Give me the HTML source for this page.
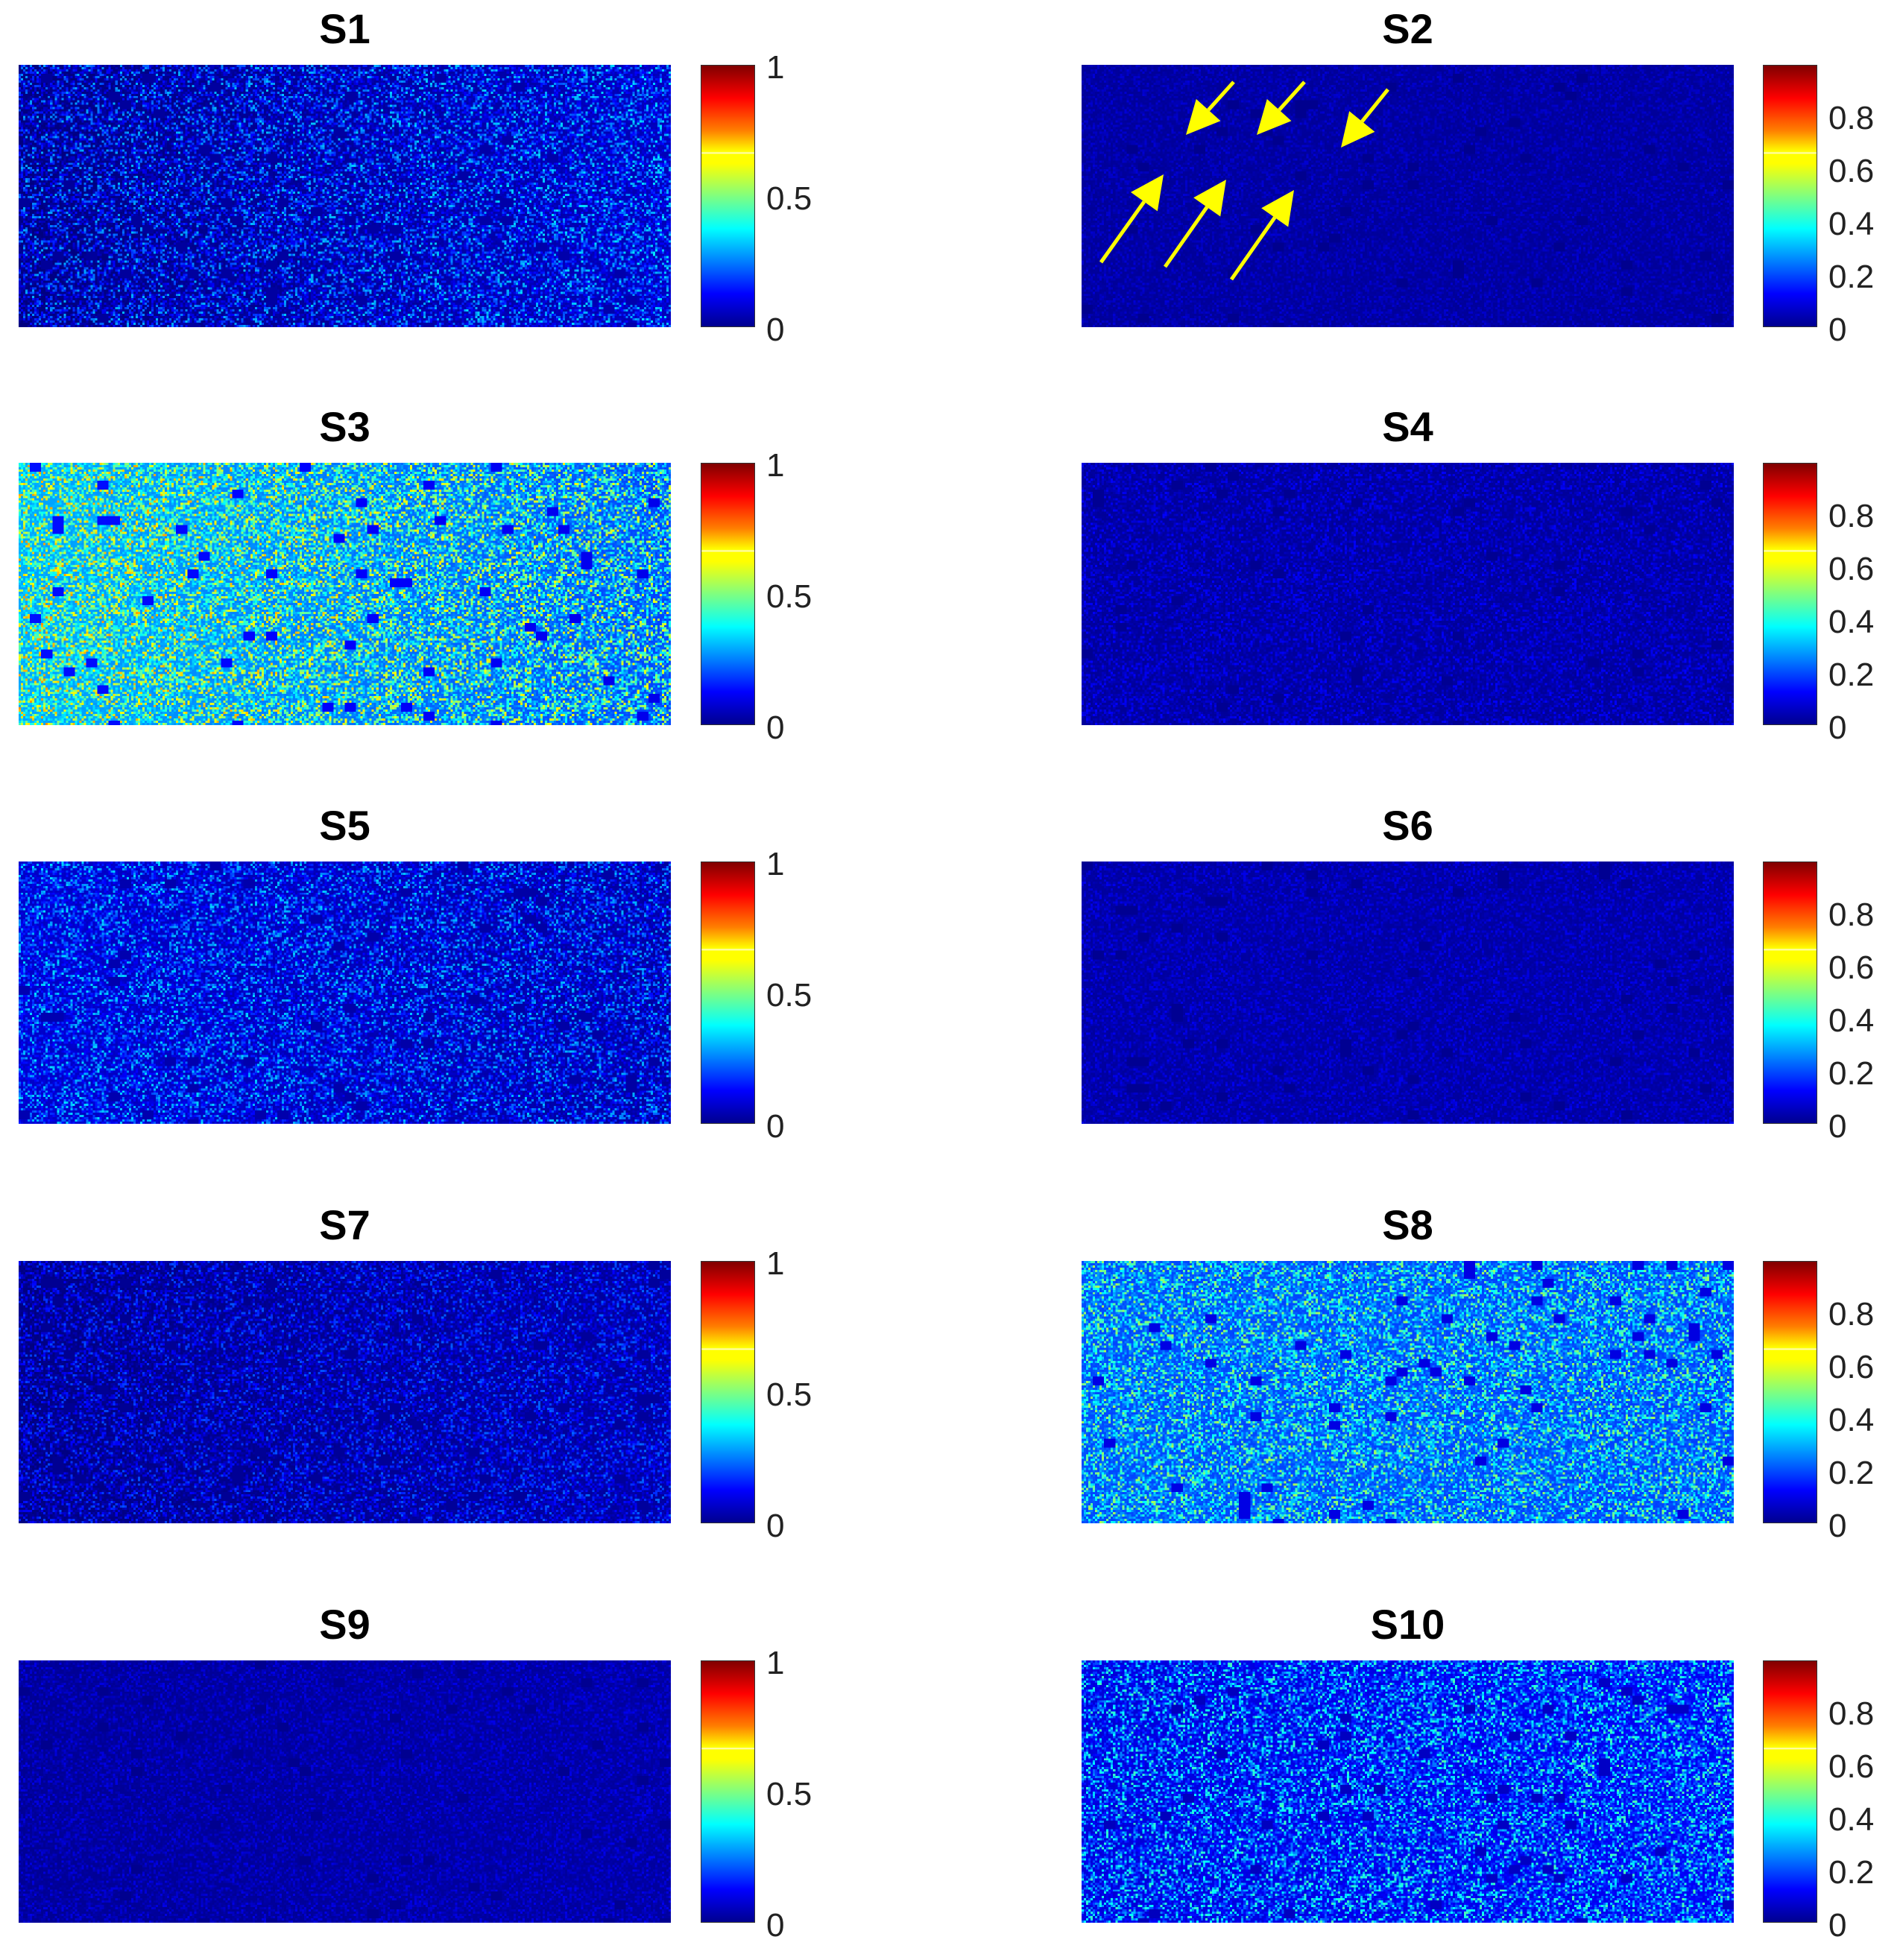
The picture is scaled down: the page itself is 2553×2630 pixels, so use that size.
<!DOCTYPE html>
<html><head><meta charset="utf-8">
<style>
body{margin:0;background:#fff;width:2553px;height:2630px;overflow:hidden;position:relative;font-family:"Liberation Sans",sans-serif}
.title{position:absolute;font-weight:bold;font-size:56px;text-align:center;width:875px;line-height:60px}
canvas.map{position:absolute;image-rendering:pixelated}
.cbar{position:absolute;width:73px;border:1px solid #333;box-sizing:border-box;background:linear-gradient(to top,#00008f 0%,#0000ff 12.5%,#00ffff 37.5%,#ffff00 62.5%,#ffff00 66%,#fffbd0 66.5%,#ffff00 67%,#ff8000 75%,#ff0000 87.5%,#800000 100%)}
.tick{position:absolute;font-size:44px;line-height:44px;color:#222;transform:translateY(-50%)}
</style></head><body>
<svg id="arrows" width="2553" height="2630" style="position:absolute;left:0;top:0;z-index:5"></svg>
<script>
const panelTitles=["S1","S2","S3","S4","S5","S6","S7","S8","S9","S10"];
const leftLevels=[0.07,0.04,0.40,0.05,0.14,0.05,0.05,0.28,0.04,0.17];
const rightLevels=[0.13,0.04,0.30,0.05,0.10,0.05,0.08,0.27,0.05,0.20];
const spreadLevels=[0.30,0.06,0.45,0.10,0.28,0.08,0.20,0.35,0.08,0.35];
const cbarMax=[1,0.99,1,0.99,1,0.99,1,0.99,1,0.99];
const ticksLeft=["0","0.5","1"];
const tickValsLeft=[0,0.5,1];
const ticksRight=["0","0.2","0.4","0.6","0.8"];
const tickValsRight=[0,0.2,0.4,0.6,0.8];

const colX=[25,1451], colW=875, rowTop=[87,621,1156,1692,2228], mapH=352;
function jet(v){v=Math.max(0,Math.min(1,v));
 const r=Math.max(0,Math.min(1,1.5-Math.abs(4*v-3))),g=Math.max(0,Math.min(1,1.5-Math.abs(4*v-2))),b=Math.max(0,Math.min(1,1.5-Math.abs(4*v-1)));
 return [r*255,g*255,b*255];}
function hash(i,j,k){let h=(i*374761393+j*668265263+k*2147483647)|0;h=(h^(h>>>13))*1274126177|0;return ((h^(h>>>16))>>>0)/4294967296;}
panelTitles.forEach((t,p)=>{
 const c=p%2,r=Math.floor(p/2),x=colX[c],y=rowTop[r];
 const ti=document.createElement('div');ti.className='title';ti.textContent=t;
 
 
 ti.style.left=x+'px';ti.style.top=(y-78)+'px';document.body.appendChild(ti);
 const cv=document.createElement('canvas');cv.className='map';cv.width=290;cv.height=118;
 
 
 cv.style.left=x+'px';cv.style.top=y+'px';cv.style.width=colW+'px';cv.style.height=mapH+'px';
 const ctx=cv.getContext('2d'),img=ctx.createImageData(290,118);
 for(let j=0;j<118;j++)for(let i=0;i<290;i++){
  const f=i/289,base=leftLevels[p]*(1-f)+rightLevels[p]*f;
  const n=hash(i,j,p+1),blob=hash(Math.floor(i/5),Math.floor(j/4),p+50);
  let v=base+spreadLevels[p]*(n*n*n-0.25);
  if(blob<0.03)v=base*0.35;
  v=Math.max(0,v)/cbarMax[p];const col=jet(v),o=(j*290+i)*4;
  img.data[o]=col[0];img.data[o+1]=col[1];img.data[o+2]=col[2];img.data[o+3]=255;}
 ctx.putImageData(img,0,0);document.body.appendChild(cv);
 const cbx=c?2365:940;
 const cb=document.createElement('div');cb.className='cbar';
 
 
 cb.style.left=cbx+'px';cb.style.top=y+'px';cb.style.height=mapH+'px';document.body.appendChild(cb);
 const labs=c?ticksRight:ticksLeft,vals=c?tickValsRight:tickValsLeft;
 labs.forEach((l,k)=>{const tk=document.createElement('div');tk.className='tick';tk.textContent=l;
  
  
  tk.style.left=(cbx+88)+'px';tk.style.top=(y+mapH-vals[k]/cbarMax[p]*mapH+4)+'px';document.body.appendChild(tk);});
});
const arrowsFrom=[[1655,110],[1750,110],[1862,120],[1477,352],[1563,358],[1652,375]];
const arrowsTo=[[1591,181],[1686,181],[1799,198],[1561,234],[1645,241],[1736,255]];
const svg=document.getElementById('arrows');
arrowsFrom.forEach((a,k)=>{const b=arrowsTo[k];
 const dx=b[0]-a[0],dy=b[1]-a[1],L=Math.hypot(dx,dy),ux=dx/L,uy=dy/L,hl=45,hw=22;
 const bx=b[0]-ux*hl,by=b[1]-uy*hl;
 const g=document.createElementNS('http://www.w3.org/2000/svg','g');
 
 
 g.innerHTML=`<line x1="${a[0]}" y1="${a[1]}" x2="${bx}" y2="${by}" stroke="#ffff00" stroke-width="5"/><polygon fill="#ffff00" points="${b[0]},${b[1]} ${bx-uy*hw},${by+ux*hw} ${bx+uy*hw},${by-ux*hw}"/>`;
 svg.appendChild(g);});
</script>
</body></html>
